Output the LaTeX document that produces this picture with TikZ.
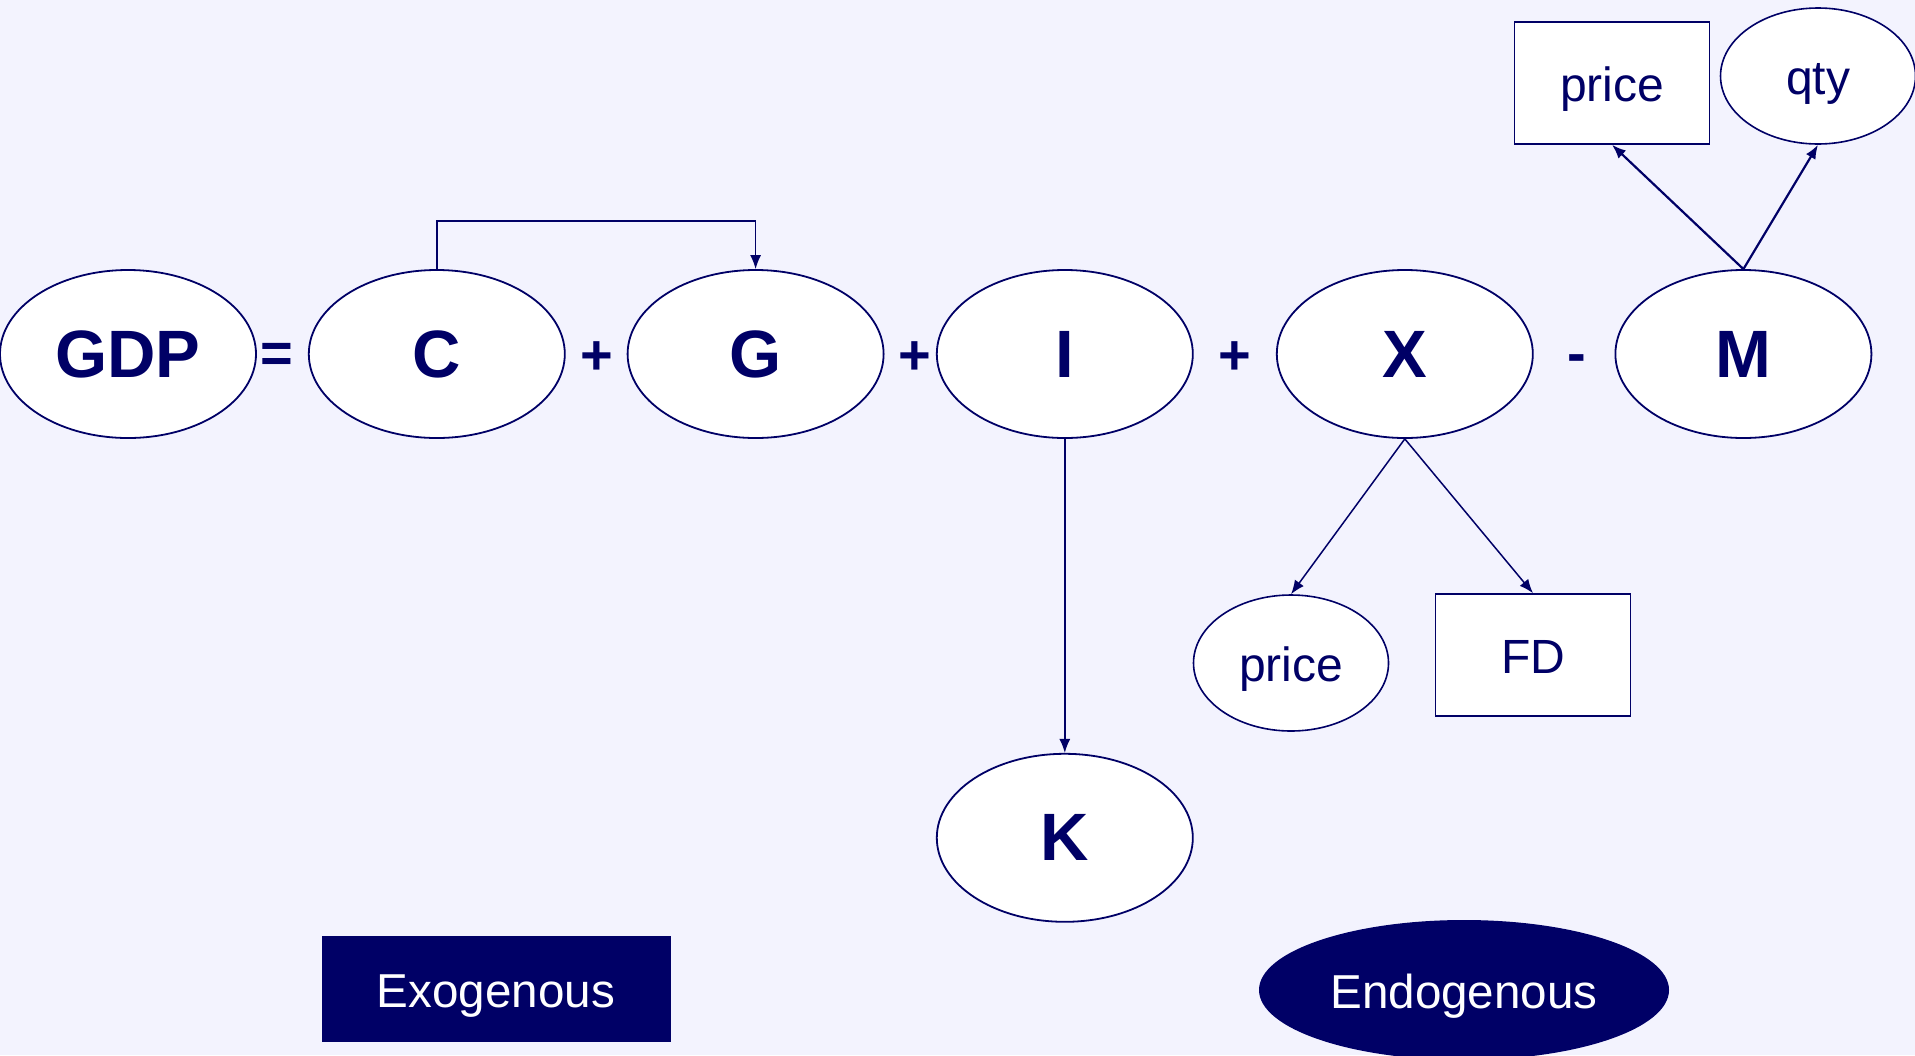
\documentclass[tikz,border=0pt]{standalone}
\usepackage{fontspec}
\setmainfont{Liberation Sans}
\usepackage{tikz}
\usetikzlibrary{arrows.meta,positioning,shapes.geometric}
\usepackage{xcolor}
\definecolor{navyBlue}{HTML}{000066}
\definecolor{paleLavender}{HTML}{F3F3FE}
\tikzset{
    bigvar/.style={
        ellipse,
        draw=navyBlue,
        line width=0.9pt,
        fill=white,
        text=navyBlue,
        inner sep=0pt,
        minimum width=128pt,
        minimum height=84pt,
        font=\fontsize{33.5}{40}\selectfont\bfseries
    },
    oper/.style={
        text=navyBlue,
        inner sep=0pt,
        font=\fontsize{28}{34}\selectfont\bfseries
    },
    driver/.style={
        ellipse,
        draw=navyBlue,
        line width=0.8pt,
        fill=white,
        text=navyBlue,
        inner sep=0pt,
        text height=23.5pt,
        text depth=5pt,
        minimum width=97.5pt,
        minimum height=68pt,
        font=\fontsize{24}{29}\selectfont
    },
    driverbox/.style={
        rectangle,
        draw=navyBlue,
        line width=0.8pt,
        fill=white,
        text=navyBlue,
        inner sep=0pt,
        text height=23.5pt,
        text depth=5pt,
        minimum width=97.5pt,
        minimum height=61pt,
        font=\fontsize{24}{29}\selectfont
    },
    legendexo/.style={
        rectangle,
        fill=navyBlue,
        text=white,
        inner sep=0pt,
        text height=23.1pt,
        text depth=5pt,
        minimum width=174.5pt,
        minimum height=53pt,
        font=\fontsize{23.8}{28}\selectfont
    },
    legendendo/.style={
        ellipse,
        fill=navyBlue,
        text=white,
        inner sep=0pt,
        text height=23.1pt,
        text depth=5pt,
        minimum width=205pt,
        minimum height=70pt,
        font=\fontsize{23.8}{28}\selectfont
    },
    arrow/.style={-{Latex[length=7pt,width=5.5pt]},line width=0.75pt,draw=navyBlue}
}
\begin{document}
\begin{tikzpicture}[x=0.5pt,y=-0.5pt]
    \fill[paleLavender] (0,0) rectangle (1915,1055);
    \useasboundingbox (0,0) rectangle (1915,1055);

    % identity row
    \node[bigvar] (gdp) at (128,354) {GDP};
    \node[bigvar, right=25.5pt of gdp] (c) {C};
    \node[bigvar, right=30.5pt of c] (g) {G};
    \node[bigvar, right=25.7pt of g] (i) {I};
    \node[bigvar, right=41.1pt of i] (x) {X};
    \node[bigvar, right=40.4pt of x] (m) {M};

    \node[oper] (eq) at (277,358) {=};
    \node[oper] (p1) at (597,358) {+};
    \node[oper] (p2) at (915,358) {+};
    \node[oper] (p3) at (1235,358) {+};
    \node[oper] (mi) at (1577,364) {-};

    % what drives each part
    \node[bigvar, below=157pt of i] (k) {K};
    \node[driver] (xprice) at (1291,663) {price};
    \node[driverbox] (fd) at (1533,655) {FD};
    \node[driverbox] (mprice) at (1612,83) {price};
    \node[driver] (qty) at (1818,76) {qty};

    % legend
    \node[legendexo] (exo) at (496,989) {Exogenous};
    \node[legendendo] (endo) at (1464,990) {Endogenous};

    \draw[arrow] (c.north) -- ++(0,-48) -| (g.north);
    \draw[arrow] (i.south) -- (k.north);
    \draw[arrow] (x.south) -- (xprice.north);
    \draw[arrow] (x.south) -- (fd.north);
    \draw[arrow, line width=1.1pt] (m.north) -- (mprice.south);
    \draw[arrow, line width=1.1pt] (m.north) -- (qty.south);
\end{tikzpicture}
\end{document}
